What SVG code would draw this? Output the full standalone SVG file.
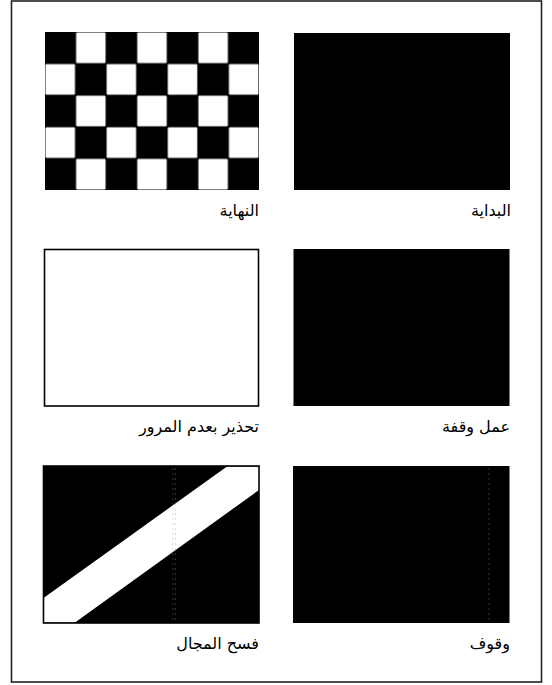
<svg xmlns="http://www.w3.org/2000/svg" width="552" height="685" viewBox="0 0 552 685">
<style>
  .frame{fill:#fff;stroke:#222;stroke-width:1.6}
  .blk{fill:#000}
  .wht{fill:#fff}
  .box{stroke:#000;stroke-width:1.6}
  .lbl{font-family:"DejaVu Sans","Noto Sans",sans-serif;font-size:16px;fill:#000;text-anchor:end}
  .art{stroke:#999;stroke-width:0.7;stroke-dasharray:2 3;opacity:0.5}
</style>
<defs>
  <pattern id="chk" x="45" y="32" width="61.14" height="63.2" patternUnits="userSpaceOnUse">
    <rect x="0" y="0" width="61.14" height="63.2" fill="#000"/>
    <rect x="31.1" y="0.6" width="29.5" height="30.4" rx="1" fill="#fff"/>
    <rect x="0.5" y="32.2" width="29.5" height="30.4" rx="1" fill="#fff"/>
  </pattern>
</defs>
<rect class="frame" x="11.5" y="1" width="530" height="681"/>

<g id="node-end">
  <rect x="45" y="32" width="214" height="158" fill="url(#chk)"/>
  <text class="lbl" x="259" y="216">النهاية</text>
</g>

<g id="node-start">
  <rect class="blk" x="294" y="33" width="216" height="157"/>
  <text class="lbl" x="511" y="216">البداية</text>
</g>

<g id="node-no-passing">
  <rect class="wht box" x="44.5" y="249.5" width="214" height="156.5"/>
  <text class="lbl" x="259" y="432">تحذير بعدم المرور</text>
</g>

<g id="node-pit-stop">
  <rect class="blk" x="293.5" y="249" width="216" height="157"/>
  <text class="lbl" x="510" y="432">عمل وقفة</text>
</g>

<g id="node-clear">
  <rect class="blk" x="43.5" y="466" width="215.5" height="157"/>
  <polygon class="wht" points="43.5,598 227,466.5 259,466.5 259,490 75,622.5 43.5,622.5"/>
  <line class="art" x1="173" y1="468" x2="173" y2="621"/>
  <line class="art" x1="175.5" y1="468" x2="175.5" y2="621"/>
  <rect x="43.5" y="466" width="215.5" height="157" fill="none" stroke="#000" stroke-width="1.6"/>
  <text class="lbl" x="259" y="649">فسح المجال</text>
</g>

<g id="node-stop">
  <rect class="blk" x="293" y="466" width="216.5" height="157"/>
  <line class="art" x1="489" y1="468" x2="489" y2="621"/>
  <text class="lbl" x="510" y="649">وقوف</text>
</g>

<g id="connectors"></g>
</svg>
